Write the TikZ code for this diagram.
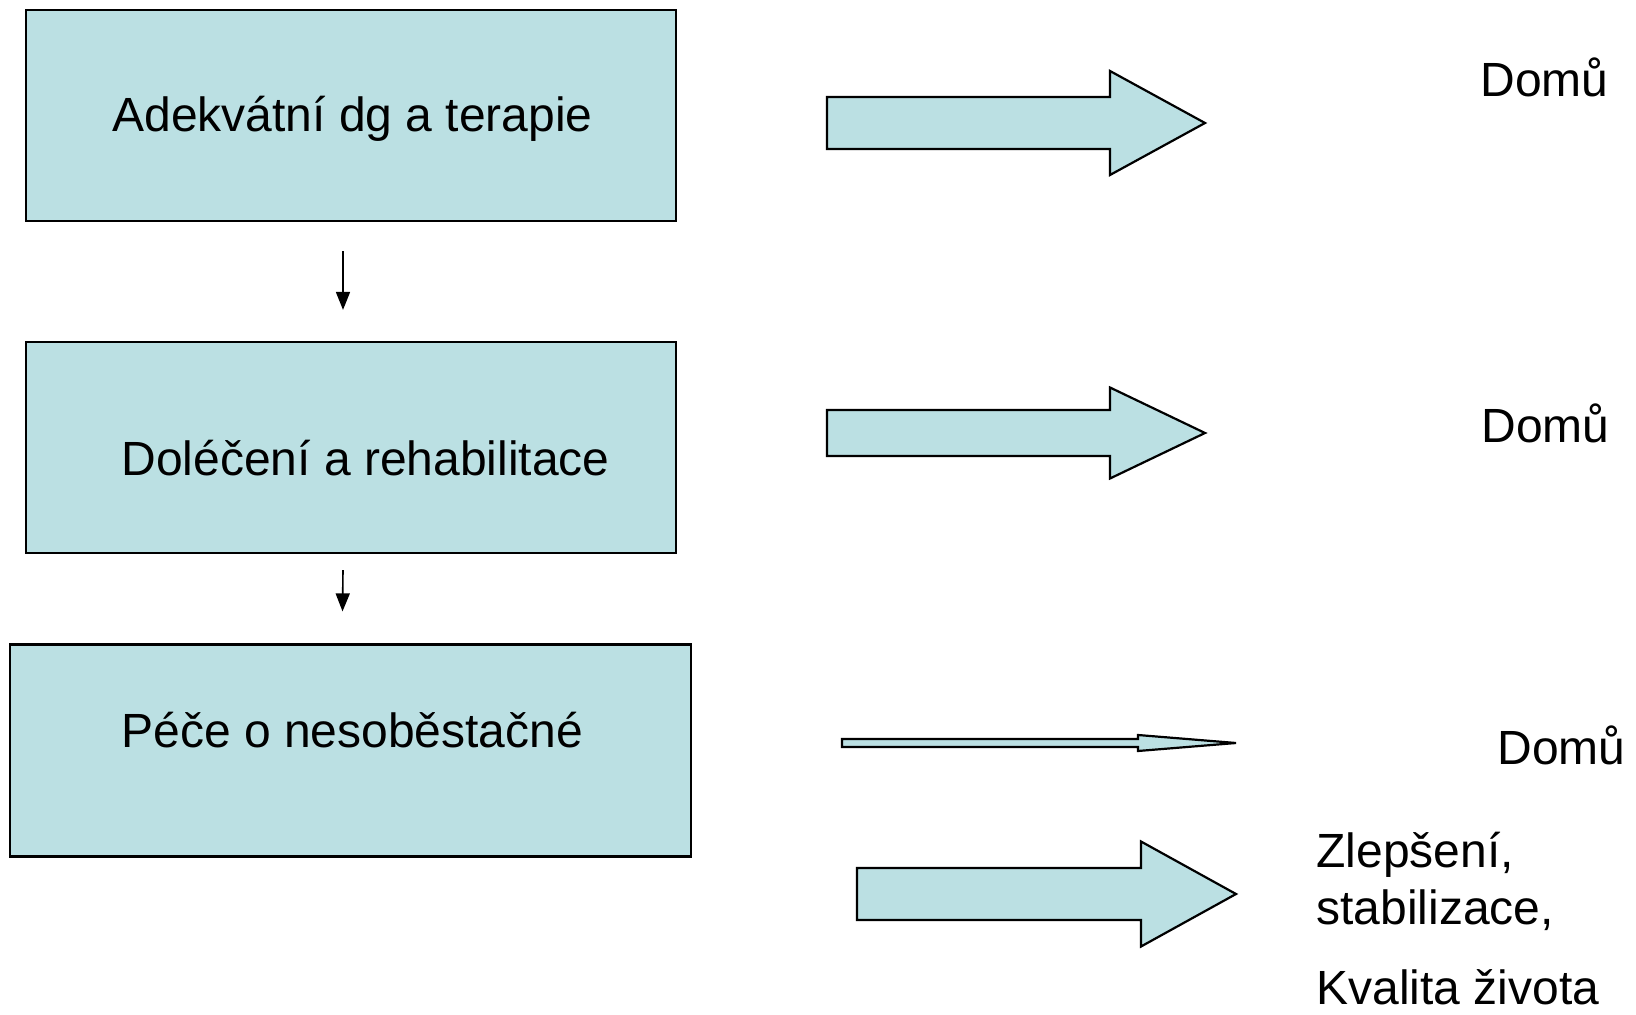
\documentclass[tikz,border=0pt]{standalone}
\usepackage{fontspec}
\setmainfont{Liberation Sans}
\usepackage{tikz}
\usetikzlibrary{arrows.meta,calc}
\usepackage{xcolor}
\definecolor{PaleCyan}{HTML}{BBE0E3}

% block arrow: x start, x head, x tip, y centre, shaft half, head half
\newcommand{\blockarrow}[6]{%
  \draw[blk] (#1,#4-#5) -- (#2,#4-#5) -- (#2,#4-#6) -- (#3,#4)
    -- (#2,#4+#6) -- (#2,#4+#5) -- (#1,#4+#5) -- cycle;}

\begin{document}
\begin{tikzpicture}[x=0.5pt, y=-0.5pt,
  stage/.style={draw=black, line width=1.1pt, fill=PaleCyan, minimum height=105.5pt,
                inner sep=0pt},
  lbl/.style={anchor=base west, inner sep=0pt, font=\fontsize{24}{29}\selectfont},
  blk/.style={draw=black, line width=1.1pt, fill=PaleCyan, line join=miter},
  darr/.style={-{Triangle[length=9pt,width=7pt]}, line width=0.8pt}
]
  \useasboundingbox (0,0) rectangle (1636,1015);

  \node[stage, minimum width=325pt]                    (adekv) at (351,115.5) {};
  \node[stage, minimum width=325pt]                    (dolec) at (351,447.5) {};
  \node[stage, minimum width=340.5pt, minimum height=106pt] (pece) at (350.5,750.5) {};

  \node[lbl] (adekvlbl) at (112,132) {Adekvátní dg a terapie};
  \node[lbl] (doleclbl) at (121,475) {Doléčení a rehabilitace};
  \node[lbl] (pecelbl)  at (121,747) {Péče o nesoběstačné};

  \draw[darr] ($(adekv.south)+(-8,29)$) -- ($(dolec.north)+(-8,-31)$);
  \draw[darr] ($(dolec.south)+(-8,16)$) -- ($(pece.north)+(-8,-32)$);

  \blockarrow{827}{1110}{1205}{123}{26}{52}
  \blockarrow{827}{1110}{1205}{433}{23}{45.5}
  \blockarrow{842}{1138}{1236}{743}{4}{8}
  \blockarrow{857}{1141}{1236}{894}{26}{52.5}

  \node[lbl] (domu1) at (1480,97)  {Domů};
  \node[lbl] (domu2) at (1481,443) {Domů};
  \node[lbl] (domu3) at (1497,764) {Domů};
  \node[lbl] (zlep)  at (1316,867) {Zlepšení,};
  \node[lbl] (stab)  at (1316,924) {stabilizace,};
  \node[lbl] (kval)  at (1316,1004) {Kvalita života};
\end{tikzpicture}
\end{document}
